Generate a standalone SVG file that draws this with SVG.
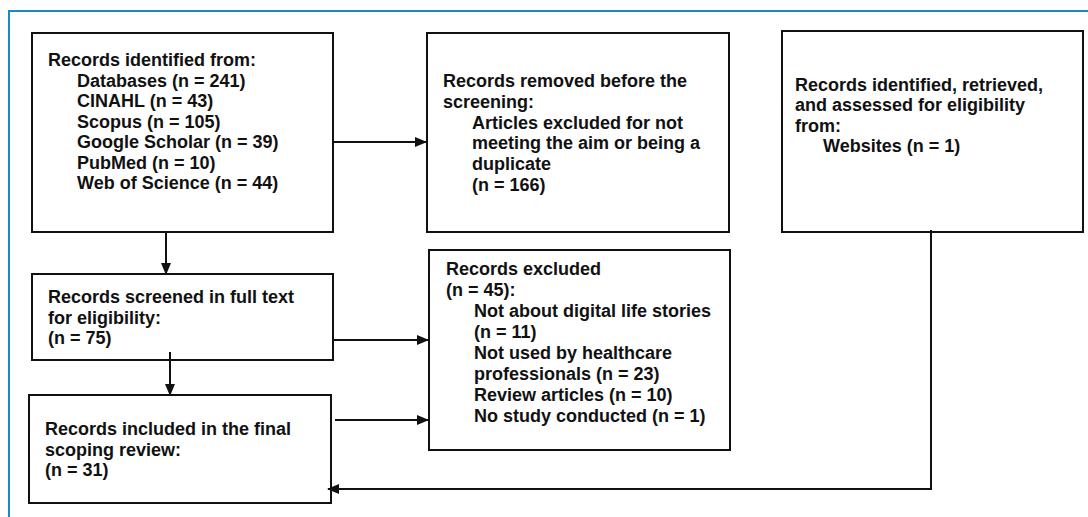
<svg xmlns="http://www.w3.org/2000/svg" width="1088" height="517" viewBox="0 0 1088 517">
<style>
.box{fill:#fff;stroke:#111;stroke-width:2}
.t{font-family:"Liberation Sans",Arial,sans-serif;font-weight:bold;font-size:18px;fill:#111}
.c{fill:none;stroke:#111;stroke-width:2}
.frame{fill:none;stroke:#1a87c9;stroke-width:2}
</style>
<defs>
<marker id="ah" markerUnits="userSpaceOnUse" markerWidth="12" markerHeight="10" refX="11" refY="5" orient="auto">
<path d="M0,0 L12,5 L0,10 Z" fill="#111"/>
</marker>
</defs>
<rect width="1088" height="517" fill="#fff"/>
<path class="frame" d="M1088,11 H9 V517"/>
<g id="n1">
<rect class="box" x="32" y="33" width="301" height="199"/>
<text class="t" x="48" y="66">Records identified from:</text>
<text class="t" x="77" y="86.5">Databases (n = 241)</text>
<text class="t" x="77" y="107">CINAHL (n = 43)</text>
<text class="t" x="77" y="127.5">Scopus (n = 105)</text>
<text class="t" x="77" y="148">Google Scholar (n = 39)</text>
<text class="t" x="77" y="168.5">PubMed (n = 10)</text>
<text class="t" x="77" y="189">Web of Science (n = 44)</text>
</g>
<g id="n2">
<rect class="box" x="427" y="33" width="302" height="199"/>
<text class="t" x="443" y="87">Records removed before the</text>
<text class="t" x="443" y="108">screening:</text>
<text class="t" x="472" y="128.5">Articles excluded for not</text>
<text class="t" x="472" y="149">meeting the aim or being a</text>
<text class="t" x="472" y="170">duplicate</text>
<text class="t" x="472" y="190.5">(n = 166)</text>
</g>
<g id="n3">
<rect class="box" x="782" y="31" width="301" height="201"/>
<text class="t" x="795" y="91">Records identified, retrieved,</text>
<text class="t" x="795" y="111">and assessed for eligibility</text>
<text class="t" x="795" y="131.5">from:</text>
<text class="t" x="823" y="152">Websites (n = 1)</text>
</g>
<g id="n4">
<rect class="box" x="32" y="274" width="301" height="86"/>
<text class="t" x="48" y="303">Records screened in full text</text>
<text class="t" x="48" y="323.5">for eligibility:</text>
<text class="t" x="48" y="344">(n = 75)</text>
</g>
<g id="n5">
<rect class="box" x="29" y="395" width="302" height="108"/>
<text class="t" x="45" y="435">Records included in the final</text>
<text class="t" x="45" y="455.5">scoping review:</text>
<text class="t" x="45" y="476">(n = 31)</text>
</g>
<g id="n6">
<rect class="box" x="429" y="250" width="301" height="200"/>
<text class="t" x="446" y="275">Records excluded</text>
<text class="t" x="446" y="296">(n = 45):</text>
<text class="t" x="474" y="317">Not about digital life stories</text>
<text class="t" x="474" y="338">(n = 11)</text>
<text class="t" x="474" y="359">Not used by healthcare</text>
<text class="t" x="474" y="380">professionals (n = 23)</text>
<text class="t" x="474" y="401">Review articles (n = 10)</text>
<text class="t" x="474" y="422">No study conducted (n = 1)</text>
</g>
<g id="connectors">
<path class="c" d="M333,142 H426" marker-end="url(#ah)"/>
<path class="c" d="M166,232 V274" marker-end="url(#ah)"/>
<path class="c" d="M333,340 H428" marker-end="url(#ah)"/>
<path class="c" d="M170,352 V395" marker-end="url(#ah)"/>
<path class="c" d="M335,420 H428" marker-end="url(#ah)"/>
<path class="c" d="M931,230 V489 H328" marker-end="url(#ah)"/>
</g>
</svg>
